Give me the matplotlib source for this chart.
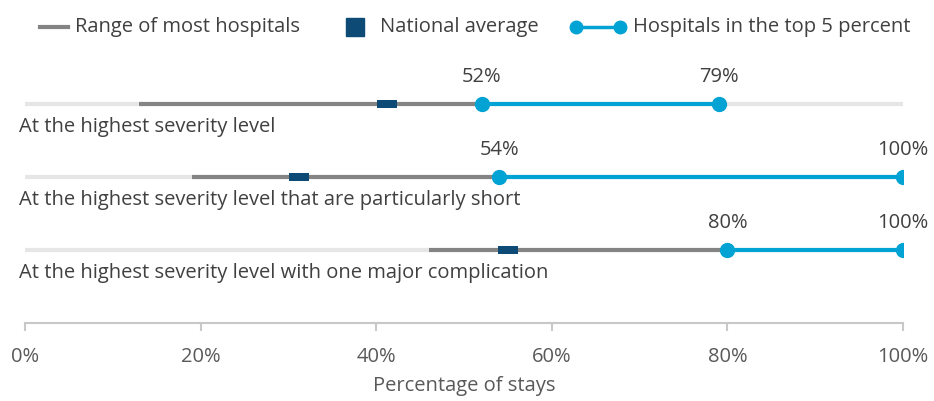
import matplotlib
matplotlib.use("Agg")
import matplotlib.pyplot as plt
from matplotlib.ticker import PercentFormatter

plt.rcParams['font.family'] = ['Open Sans', 'DejaVu Sans']

# --- data ---
categories = [
    "At the highest severity level",
    "At the highest severity level that are particularly short",
    "At the highest severity level with one major complication",
]
range_low = [13, 19, 46]
national_avg = [41.2, 31.2, 55]
top5_low = [52, 54, 80]
top5_high = [79, 100, 100]

legend_labels = ["Range of most hospitals", "National average", "Hospitals in the top 5 percent"]

# --- style ---
c_bg = "#e6e6e6"
c_range = "#848484"
c_avg = "#0d4a76"
c_top = "#00a3d3"
c_text = "#404040"
c_axis = "#c8c8c8"
fs = 14.5

fig = plt.figure(figsize=(9.34, 4.01), dpi=100)
ax = fig.add_axes([25 / 934, 1 - 323 / 401, 878 / 934, 273 / 401])

ys = [3, 2, 1]
for y, cat, lo, avg, t_lo, t_hi in zip(ys, categories, range_low, national_avg, top5_low, top5_high):
    ax.plot([0, 100], [y, y], color=c_bg, lw=3, solid_capstyle='round', zorder=1)
    ax.plot([lo, t_lo], [y, y], color=c_range, lw=3, solid_capstyle='butt', zorder=2)
    ax.barh(y, 2.3, left=avg - 1.15, height=0.11, color=c_avg, zorder=3)
    ax.plot([t_lo, t_hi], [y, y], color=c_top, lw=3, marker='o', ms=10, zorder=4)
    for v in (t_lo, t_hi):
        ax.annotate(f"{v}%", (v, y), xytext=(0, 12), textcoords='offset points',
                    ha='center', va='bottom', fontsize=fs, color=c_text)
    ax.annotate(cat, (0, y), xytext=(-4, -9), textcoords='offset points',
                ha='left', va='top', fontsize=fs, color=c_text)

ax.set_xlim(0, 100)
ax.set_ylim(0, 3.74)
ax.set_xticks([0, 20, 40, 60, 80, 100])
ax.xaxis.set_major_formatter(PercentFormatter(decimals=0))
ax.set_yticks([])
for s in ('top', 'right', 'left'):
    ax.spines[s].set_visible(False)
ax.spines['bottom'].set_color(c_axis)
ax.spines['bottom'].set_linewidth(1.5)
ax.tick_params(axis='x', colors=c_axis, length=6, width=1.5, pad=11,
               labelsize=fs, labelcolor='#595959')
ax.set_xlabel("Percentage of stays", fontsize=fs, color='#595959', labelpad=7)

# --- legend (drawn in a pixel-space overlay) ---
lg = fig.add_axes([0, 0, 1, 1], facecolor='none')
lg.set_xlim(0, 934)
lg.set_ylim(401, 0)
lg.axis('off')
ly = 27
lg.plot([40, 68], [ly, ly], color=c_range, lw=3)
lg.text(75, ly, legend_labels[0], va='center', fontsize=fs, color=c_text)
lg.plot([355], [ly], color=c_avg, marker='s', ms=13, lw=0)
lg.text(380, ly, legend_labels[1], va='center', fontsize=fs, color=c_text)
lg.plot([576, 620], [ly, ly], color=c_top, lw=2.5, marker='o', ms=9)
lg.text(633, ly, legend_labels[2], va='center', fontsize=fs, color=c_text)

fig.savefig("out.png", dpi=100)
